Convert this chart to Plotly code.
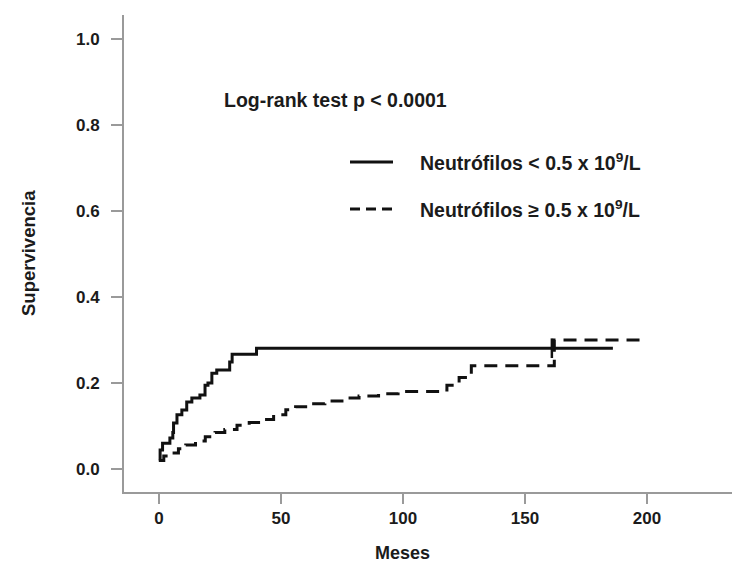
import plotly.graph_objects as go

# Kaplan-Meier style step curves (time in months, cumulative value)
meses_bajo = [0, 0.5, 1.5, 4.5, 5.7, 6.0, 7.4, 9.4, 11.4, 13.5, 16.8, 18.9, 20.1,
              21.7, 23.7, 29.0, 30.0, 40.0, 186.0]
superv_bajo = [0.020, 0.044, 0.060, 0.072, 0.085, 0.107, 0.126, 0.137, 0.156, 0.165,
               0.172, 0.195, 0.200, 0.223, 0.230, 0.249, 0.267, 0.281, 0.281]

meses_alto = [0, 2, 5, 8, 11, 15, 19, 23, 27, 32, 37, 42, 47, 52, 56, 62, 68, 75,
              82, 90, 98, 115, 118, 123, 128, 162, 197]
superv_alto = [0.020, 0.030, 0.037, 0.047, 0.056, 0.065, 0.075, 0.085, 0.092, 0.102,
               0.108, 0.115, 0.126, 0.138, 0.145, 0.152, 0.158, 0.165, 0.170, 0.175,
               0.180, 0.184, 0.195, 0.213, 0.240, 0.300, 0.300]

# censored observation on the low-neutrophil curve
censura_bajo_x = [161]
censura_bajo_y = [0.281]

x_ticks = [0, 50, 100, 150, 200]
y_ticks = [0.0, 0.2, 0.4, 0.6, 0.8, 1.0]
y_tick_text = ["0.0", "0.2", "0.4", "0.6", "0.8", "1.0"]

W, H = 735, 567
ML, MR, MT, MB = 124, 3, 15, 75
PW, PH = W - ML - MR, H - MT - MB

FONT = "Arial, Liberation Sans, Helvetica, sans-serif"
INK = "#1b1b1b"
AXIS = "#9a9a9a"


def px(xp):
    return (xp - ML) / PW


def py(yp):
    return (H - MB - yp) / PH


fig = go.Figure()

fig.add_trace(go.Scatter(
    x=meses_bajo, y=superv_bajo, mode="lines", line_shape="hv",
    line=dict(color="#111111", width=3), showlegend=False))

fig.add_trace(go.Scatter(
    x=meses_alto, y=superv_alto, mode="lines", line_shape="hv",
    line=dict(color="#111111", width=3, dash="13px,8px"), showlegend=False))

fig.add_trace(go.Scatter(
    x=censura_bajo_x, y=censura_bajo_y, mode="markers",
    marker=dict(symbol="line-ns", size=14, line=dict(color="#111111", width=2.5)),
    showlegend=False))

# legend samples and labels
fig.add_shape(type="line", xref="paper", yref="paper",
              x0=px(350), x1=px(393), y0=py(162), y1=py(162),
              line=dict(color="#111111", width=3))
fig.add_shape(type="line", xref="paper", yref="paper",
              x0=px(350), x1=px(393), y0=py(209), y1=py(209),
              line=dict(color="#111111", width=3, dash="10px,6px"))

annots = [
    dict(text="<b>Log-rank test p &lt; 0.0001</b>", x=px(222), y=py(100)),
    dict(text="<b>Neutrófilos &lt; 0.5 x 10<sup>9</sup>/L</b>", x=px(418), y=py(162)),
    dict(text="<b>Neutrófilos ≥ 0.5 x 10<sup>9</sup>/L</b>", x=px(418), y=py(209)),
]
for a in annots:
    fig.add_annotation(text=a["text"], xref="paper", yref="paper", x=a["x"], y=a["y"],
                       xanchor="left", yanchor="middle", showarrow=False,
                       font=dict(family=FONT, size=19.5, color=INK))

# axis titles
fig.add_annotation(text="<b>Meses</b>", xref="x", yref="paper", x=100, y=py(553),
                   xanchor="center", yanchor="middle", showarrow=False,
                   font=dict(family=FONT, size=18, color=INK))
fig.add_annotation(text="<b>Supervivencia</b>", xref="paper", yref="paper",
                   x=px(28), y=py(253), xanchor="center", yanchor="middle",
                   textangle=-90, showarrow=False,
                   font=dict(family=FONT, size=18.5, color=INK))

fig.update_layout(
    width=W, height=H,
    margin=dict(l=ML, r=MR, t=MT, b=MB),
    paper_bgcolor="white", plot_bgcolor="white",
    xaxis=dict(range=[-14.3, 234.8], tickvals=x_ticks, showgrid=False, zeroline=False,
               showline=True, linecolor=AXIS, linewidth=2,
               ticks="outside", ticklen=10, tickwidth=1.5, tickcolor=AXIS,
               ticklabelstandoff=0,
               tickfont=dict(family=FONT, size=17, color=INK, weight="bold")),
    yaxis=dict(range=[-0.0535, 1.056], tickvals=y_ticks, ticktext=y_tick_text,
               showgrid=False, zeroline=False,
               showline=True, linecolor=AXIS, linewidth=2,
               ticks="outside", ticklen=11, tickwidth=1.5, tickcolor=AXIS,
               ticklabelstandoff=8,
               tickfont=dict(family=FONT, size=17, color=INK, weight="bold")),
)

fig.write_html("out.html")
